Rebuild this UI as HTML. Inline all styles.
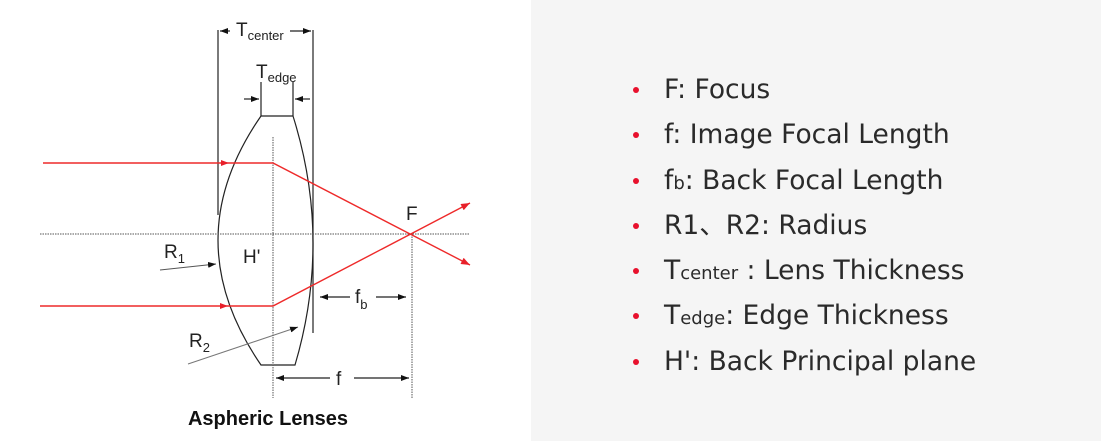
<!DOCTYPE html>
<html><head><style>
body{margin:0;width:1101px;height:441px;background:#fff;position:relative;overflow:hidden;font-family:"Liberation Sans",sans-serif}
#rp{position:absolute;left:531px;top:0;width:570px;height:441px;background:#f5f5f5}
ul{position:absolute;left:633px;top:70px;margin:0;padding:0;list-style:none}
li{color:#2a2a2a;height:45.3px;line-height:40px;white-space:nowrap;position:relative;padding-left:31px;font-family:"DejaVu Sans",sans-serif;font-size:26.5px}
li:before{content:"";position:absolute;left:0;top:17px;width:6px;height:6px;border-radius:50%;background:#e8112d}
small{font-size:18px}
</style></head><body>
<div id="rp"></div>
<svg width="531" height="441" style="position:absolute;left:0;top:0" font-family="Liberation Sans,sans-serif">
<defs>
<marker id="a" markerWidth="8" markerHeight="6" refX="8" refY="3" orient="auto" markerUnits="userSpaceOnUse"><path d="M0,0L8,3L0,6z" fill="#111"/></marker>
<marker id="r" markerWidth="9" markerHeight="7" refX="9" refY="3.5" orient="auto" markerUnits="userSpaceOnUse"><path d="M0,0L9,3.5L0,7z" fill="#e8202a"/></marker>
</defs>
<g stroke="#222" stroke-width="1.2" fill="none">
<line x1="218" y1="30" x2="218" y2="215"/>
<line x1="313" y1="30" x2="313" y2="333"/>
<line x1="261" y1="82" x2="261" y2="116"/>
<line x1="293" y1="82" x2="293" y2="116"/>
<path d="M261,116 L293,116 Q332,240 295,365 L261,365 Q175,240 261,116Z"/>
<line x1="230" y1="31" x2="220" y2="31" marker-end="url(#a)"/>
<line x1="290" y1="31" x2="311" y2="31" marker-end="url(#a)"/>
<line x1="244" y1="99" x2="259" y2="99" marker-end="url(#a)"/>
<line x1="310" y1="99" x2="295" y2="99" marker-end="url(#a)"/>
<line x1="350" y1="297" x2="320" y2="297" marker-end="url(#a)"/>
<line x1="376" y1="297" x2="406" y2="297" marker-end="url(#a)"/>
<line x1="330" y1="378" x2="276" y2="378" marker-end="url(#a)"/>
<line x1="354" y1="378" x2="409" y2="378" marker-end="url(#a)"/>
</g>
<line x1="160" y1="270" x2="216" y2="264" stroke="#555" stroke-width="1" marker-end="url(#a)"/>
<line x1="188" y1="364" x2="298" y2="327" stroke="#777" stroke-width="1" marker-end="url(#a)"/>
<line x1="40" y1="234" x2="470" y2="234" stroke="#555" stroke-width="1" stroke-dasharray="1.5,1"/>
<line x1="273" y1="137" x2="273" y2="398" stroke="#555" stroke-width="1" stroke-dasharray="1.5,1"/>
<line x1="412" y1="234" x2="412" y2="398" stroke="#555" stroke-width="1" stroke-dasharray="1.5,1"/>
<g stroke="#ee2a2a" stroke-width="1.4" fill="none">
<polyline points="43,163 273,163 470,265" marker-end="url(#r)"/>
<polyline points="40,306 273,306 470,203" marker-end="url(#r)"/>
</g>
<path d="M221,160L229,163L221,166z M220,303L228,306L220,309z" fill="#e8202a"/>
<g fill="#222" font-size="19">
<text x="236" y="36">T<tspan font-size="13" dy="4">center</tspan></text>
<text x="256" y="78">T<tspan font-size="13" dy="4">edge</tspan></text>
<text x="406" y="220">F</text>
<text x="243" y="263">H'</text>
<text x="164" y="258">R<tspan font-size="13" dy="5">1</tspan></text>
<text x="189" y="347">R<tspan font-size="13" dy="5">2</tspan></text>
<text x="355" y="303">f<tspan font-size="13" dy="6">b</tspan></text>
<text x="336" y="385">f</text>
</g>
<text x="268" y="425" text-anchor="middle" font-size="20" font-weight="bold" fill="#111">Aspheric Lenses</text>
</svg>
<ul>
<li>F: Focus</li>
<li>f: Image Focal Length</li>
<li>f<small>b</small>: Back Focal Length</li>
<li>R1、R2: Radius</li>
<li>T<small>center</small> : Lens Thickness</li>
<li>T<small>edge</small>: Edge Thickness</li>
<li>H': Back Principal plane</li>
</ul>
</body></html>
